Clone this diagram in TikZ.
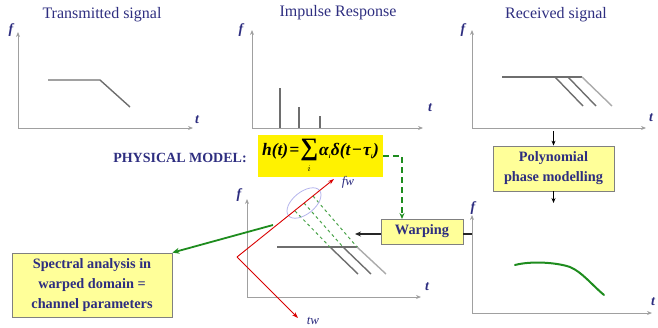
\documentclass[tikz,border=0pt]{standalone}
\usepackage{amsmath}
\usepackage{fontspec}
\setmainfont{Liberation Serif}
\usetikzlibrary{arrows.meta,shapes.geometric}
\definecolor{navy}{HTML}{2E2E80}
\definecolor{boxfill}{HTML}{FFFF99}
\definecolor{axisgray}{HTML}{A0A0A0}
\definecolor{siggray}{HTML}{6E6E6E}
\definecolor{lightsig}{HTML}{ABABAB}
\definecolor{dgreen}{HTML}{1E8C1E}
\definecolor{ellcol}{HTML}{B4B4EC}
\tikzset{
  axis/.style={draw=axisgray, line width=1pt, -{Stealth[length=5pt,width=4pt]}},
  sig/.style={draw=siggray, line width=1.4pt},
  lsig/.style={draw=lightsig, line width=1.4pt},
  title/.style={text=navy, font=\rmfamily\fontsize{16}{18}\selectfont},
  lab/.style={text=navy, font=\rmfamily\itshape\bfseries\fontsize{14}{16}\selectfont},
  ybox/.style={draw=gray, fill=boxfill, text=navy, font=\rmfamily\bfseries\fontsize{14.3}{20}\selectfont, align=center, line width=0.8pt, inner sep=0pt},
  redax/.style={draw=red!85!black, line width=0.9pt, -{Stealth[length=6pt,width=4pt]}},
}
\begin{document}
\begin{tikzpicture}[x=1pt,y=-1pt]
\useasboundingbox (0,0) rectangle (658,327);
% ---------- Transmitted signal
\node[title] (t1) at (102,15) {Transmitted signal};
\coordinate (o1) at (18,128); \coordinate (f1) at (18,32); \coordinate (e1) at (193,128);
\draw[axis] (o1) -- (f1);
\draw[axis] (o1) -- (e1);
\node[lab] (lf1) at (11,30) {f};
\node[lab] (lt1) at (197,120) {t};
\draw[sig] (48,80) -- (100,80) -- (130,107);
% ---------- Impulse response
\node[title] (t2) at (338,13) {Impulse Response};
\coordinate (o2) at (252,128); \coordinate (f2) at (252,30); \coordinate (e2) at (423,128);
\draw[axis] (o2) -- (f2);
\draw[axis] (o2) -- (e2);
\node[lab] (lf2) at (241,30) {f};
\node[lab] (lt2) at (430,108) {t};
\draw[sig] (280,128) -- (280,88);
\draw[sig] (299,128) -- (299,107);
\draw[sig] (320,128) -- (320,116);
% ---------- Received signal
\node[title] (t3) at (556,15) {Received signal};
\coordinate (o3) at (472,128); \coordinate (f3) at (472,30); \coordinate (e3) at (646,128);
\draw[axis] (o3) -- (f3);
\draw[axis] (o3) -- (e3);
\node[lab] (lf3) at (463,30) {f};
\node[lab] (lt3) at (651,118) {t};
\draw[sig] (502,77) -- (582,77);
\draw[sig] (555,77) -- (583,106);
\draw[sig] (568,77) -- (596,106);
\draw[lsig] (582,77) -- (612,106);
% ---------- Physical model
\node[text=navy, font=\rmfamily\bfseries\fontsize{14}{16}\selectfont] (pm) at (180,158) {PHYSICAL MODEL:};
\node[fill=yellow, minimum width=125pt, minimum height=42pt, inner sep=0pt,
      font=\rmfamily\bfseries\itshape\fontsize{17.5}{19}\selectfont] (form) at (320.5,156)
  {h(t)\kern1pt=\kern1pt$\mathop{\text{\upshape\fontsize{25}{25}\selectfont ∑}}\limits_{\scriptscriptstyle i}$\kern1pt α\textsubscript{\fontsize{6}{6}\selectfont i}δ(t\kern1pt−\kern1ptτ\textsubscript{\fontsize{6}{6}\selectfont i})};
% ---------- Boxes
\node[ybox, minimum width=160pt, minimum height=64pt] (spec) at (92,285)
  {Spectral analysis in\\warped domain =\\channel parameters};
\node[ybox, minimum width=82pt, minimum height=25pt] (warp) at (422,231.5) {Warping};
\node[ybox, minimum width=121pt, minimum height=45pt] (poly) at (553.5,168.5)
  {Polynomial\\phase modelling};
% ---------- Connectors
\coordinate (wIn) at (402,219);
\draw[dgreen, line width=1.6pt, dash pattern=on 6pt off 4pt, -{Stealth[length=6pt,width=5pt]}] (form.east) -| (wIn);
\coordinate (wOut) at (355,234);
\draw[black!85, line width=1.4pt, -{Stealth[length=6pt,width=5pt]}] (warp.west |- wOut) -- (wOut);
\coordinate (ax4) at (472,234);
\draw[black!85, line width=1.4pt] (warp.east |- ax4) -- (ax4);
\coordinate (rcv) at (553.5,131);
\draw[black, line width=1.4pt, -{Stealth[length=5pt,width=4pt]}] (rcv) -- (poly.north);
\coordinate (pOut) at (553.5,203);
\draw[black, line width=1.4pt, -{Stealth[length=5pt,width=4pt]}] (poly.south) -- (pOut);
% ---------- Bottom right panel
\coordinate (o4) at (472,313); \coordinate (f4) at (472,215); \coordinate (e4) at (652,313);
\draw[axis] (o4) -- (f4);
\draw[axis] (o4) -- (e4);
\node[lab] (lf4) at (473,208) {f};
\node[lab] (lt4) at (653,302) {t};
\draw[dgreen, line width=2pt, line cap=round] (515,265) .. controls (530,261) and (555,262) .. (570,267) .. controls (582,272) and (592,285) .. (604,295);
% ---------- Warped domain panel
\coordinate (o5) at (247,297); \coordinate (f5) at (247,199); \coordinate (e5) at (421,297);
\draw[axis] (o5) -- (f5);
\draw[axis] (o5) -- (e5);
\node[lab] (lf5) at (239,195) {f};
\node[lab] (lt5) at (427,287) {t};
\draw[sig] (277,247) -- (358,247);
\draw[sig] (330,247) -- (358,274);
\draw[sig] (343,247) -- (371,274);
\draw[lsig] (357,247) -- (386,274);
\draw[dgreen!80, line width=1pt, dashed] (295,211) -- (330,247);
\draw[dgreen!80, line width=1pt, dashed] (304,203) -- (343,247);
\draw[dgreen!80, line width=1pt, dashed] (313,196) -- (357,247);
\node[draw=ellcol, line width=0.8pt, ellipse, minimum width=40pt, minimum height=22pt, rotate=39] (ell) at (304,203) {};
\coordinate (rc) at (237,257);
\coordinate (fwt) at (334,179);
\coordinate (twt) at (298,318);
\draw[redax] (rc) -- (fwt);
\draw[redax] (rc) -- (twt);
\node[lab, font=\rmfamily\itshape\fontsize{13}{15}\selectfont] (fw) at (348,182) {fw};
\node[lab, font=\rmfamily\itshape\fontsize{13}{15}\selectfont] (tw) at (313,321) {tw};
\coordinate (gs) at (273,225);
\draw[dgreen, line width=1.8pt, -{Stealth[length=7pt,width=6pt]}] (gs) -- (spec.north east);
\end{tikzpicture}
\end{document}
